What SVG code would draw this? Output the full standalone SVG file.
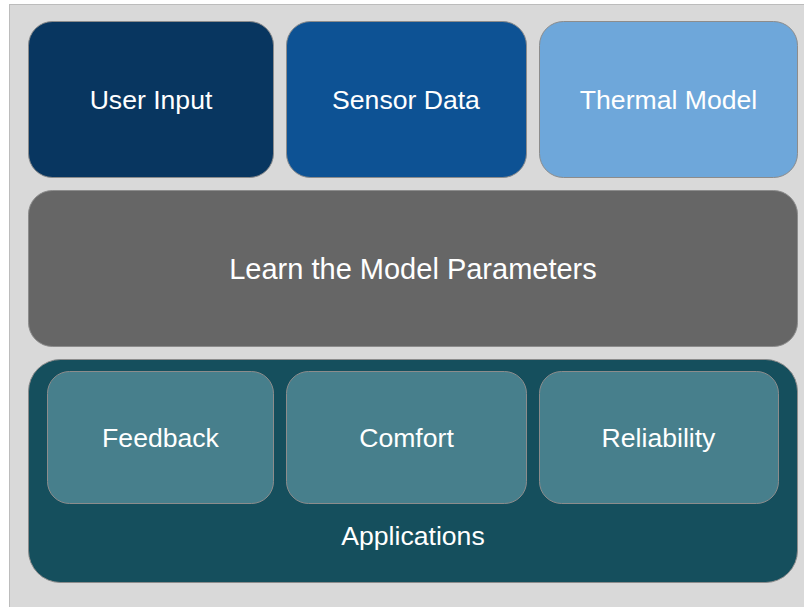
<svg xmlns="http://www.w3.org/2000/svg" width="804" height="607" viewBox="0 0 804 607">
  <style>
    .box { stroke: #8c8c8c; stroke-width: 1; }
    .lbl { font-family: "Liberation Sans", Arial, sans-serif; font-size: 26.6px; fill: #ffffff; text-anchor: middle; dominant-baseline: central; }
    .big { font-size: 29px; }
  </style>
  <rect width="804" height="607" fill="#ffffff"/>
  <!-- backdrop panel -->
  <rect x="9.5" y="4.5" width="800" height="610" fill="#d9d9d9" stroke="#bcbcbc" stroke-width="1"/>

  <g id="user-input">
    <rect class="box" x="28.5" y="21.5" width="245" height="156" rx="24" fill="#083660"/>
    <text class="lbl" x="151" y="100">User Input</text>
  </g>
  <g id="sensor-data">
    <rect class="box" x="286.5" y="21.5" width="240" height="156" rx="24" fill="#0d5294"/>
    <text class="lbl" x="406" y="100">Sensor Data</text>
  </g>
  <g id="thermal-model">
    <rect class="box" x="539.5" y="21.5" width="258" height="156" rx="24" fill="#6ea7da"/>
    <text class="lbl" x="668.5" y="100">Thermal Model</text>
  </g>
  <g id="learn">
    <rect class="box" x="28.5" y="190.5" width="769" height="156" rx="24" fill="#666666"/>
    <text class="lbl big" x="413" y="269">Learn the Model Parameters</text>
  </g>
  <g id="applications">
    <rect class="box" x="28.5" y="359.5" width="769" height="223" rx="32" fill="#154f5d"/>
    <text class="lbl" x="413" y="536">Applications</text>
  </g>
  <g id="feedback">
    <rect class="box" x="47.5" y="371.5" width="226" height="132" rx="22" fill="#477f8c"/>
    <text class="lbl" x="160.5" y="438">Feedback</text>
  </g>
  <g id="comfort">
    <rect class="box" x="286.5" y="371.5" width="240" height="132" rx="22" fill="#477f8c"/>
    <text class="lbl" x="406.5" y="438">Comfort</text>
  </g>
  <g id="reliability">
    <rect class="box" x="539.5" y="371.5" width="239" height="132" rx="22" fill="#477f8c"/>
    <text class="lbl" x="658.5" y="438">Reliability</text>
  </g>
  <g id="connectors"/>
</svg>
